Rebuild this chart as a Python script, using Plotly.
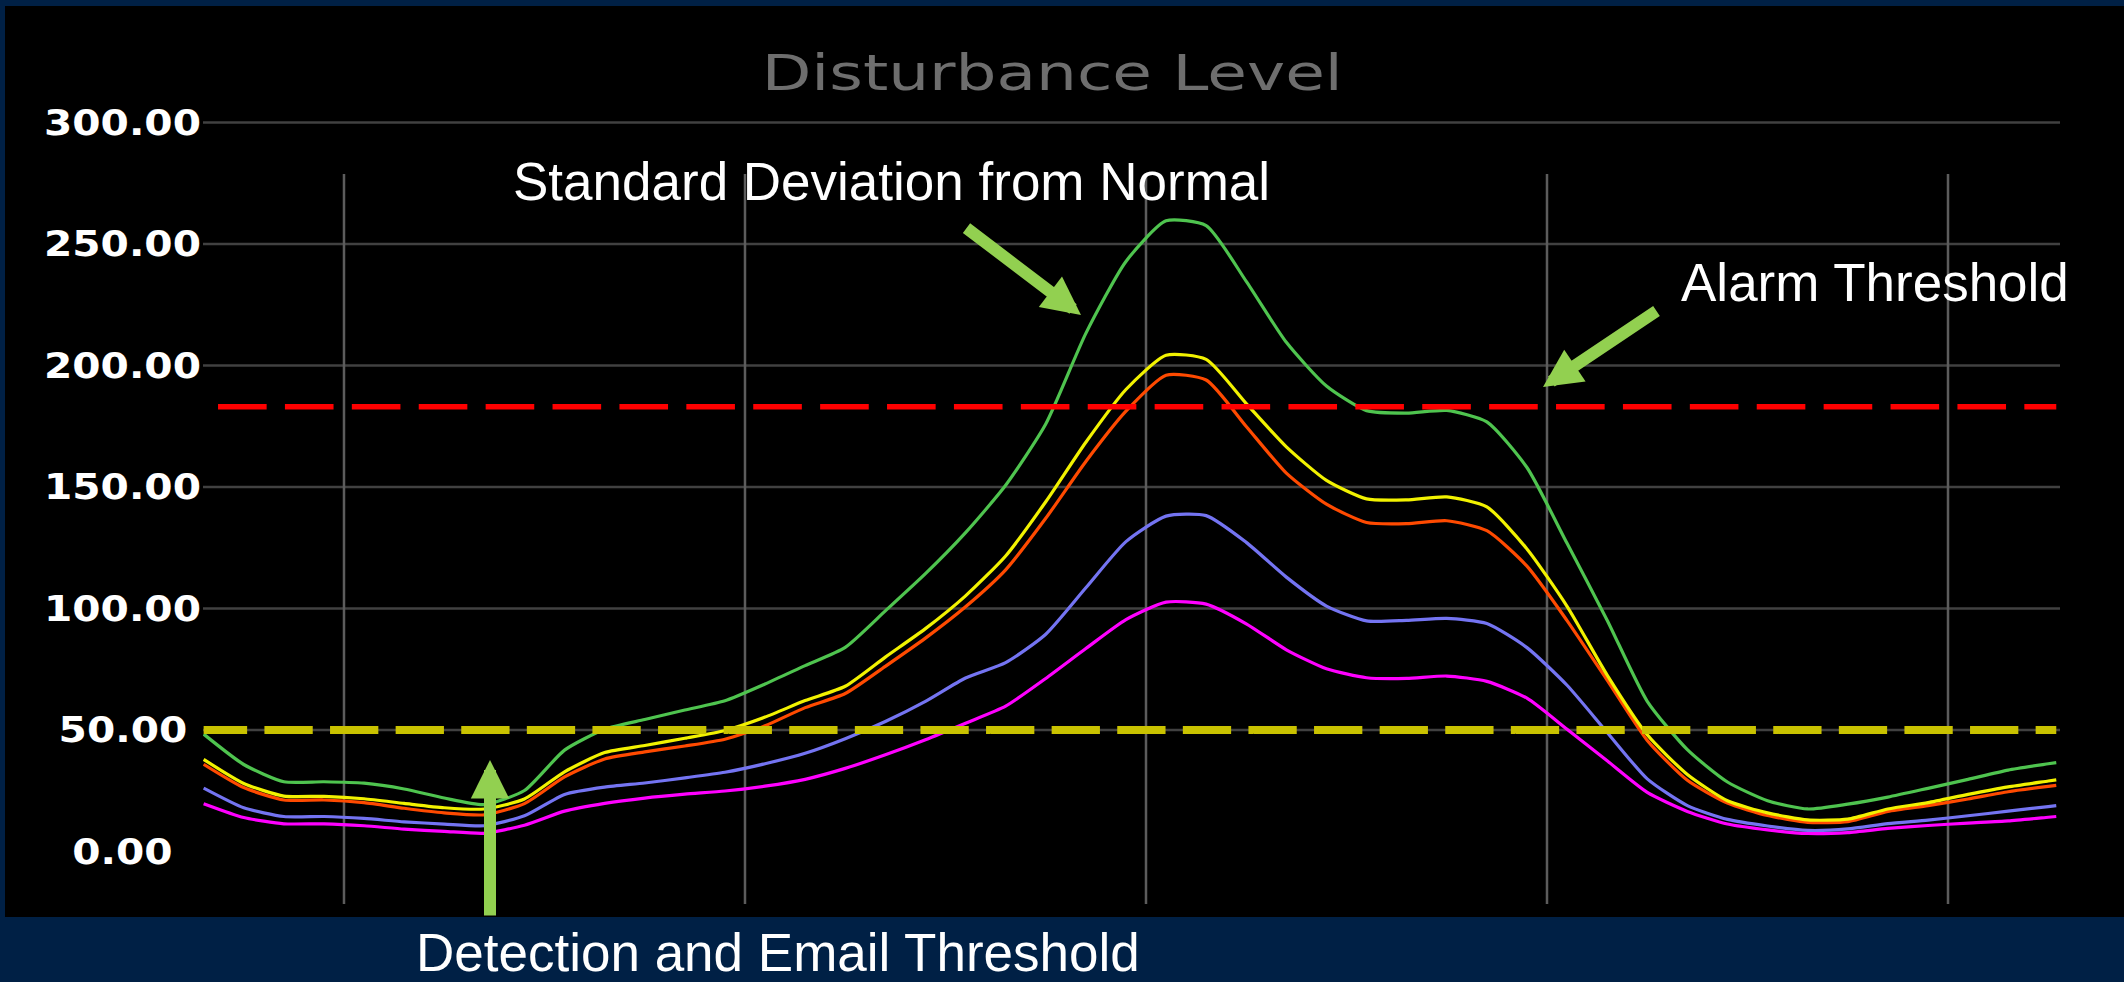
import plotly.graph_objects as go

# ---------------- data ----------------
# sample positions (x in units of the vertical grid spacing)
x_pos = [0.65, 0.75, 0.85, 0.95, 1.05, 1.15, 1.25, 1.35, 1.45, 1.55,
         1.65, 1.75, 1.85, 1.95, 2.05, 2.15, 2.25, 2.35, 2.45, 2.55,
         2.65, 2.75, 2.85, 2.95, 3.05, 3.15, 3.25, 3.35, 3.45, 3.55,
         3.65, 3.75, 3.85, 3.95, 4.05, 4.15, 4.25, 4.35, 4.45, 4.55,
         4.65, 4.75, 4.85, 4.95, 5.05, 5.15, 5.25, 5.27]

green = [48.3, 35.8, 28.7, 28.7, 28.1, 25.7, 22.0, 19.3, 25.1, 41.7,
         50.3, 54.3, 58.2, 62.0, 68.9, 76.5, 84.0, 99.0, 114.3, 131.2,
         150.7, 175.9, 213.2, 242.8, 259.5, 257.5, 234.6, 209.5, 191.5, 181.4,
         180.4, 181.5, 176.8, 158.0, 126.8, 95.2, 61.8, 41.9, 28.6, 20.9,
         17.5, 19.5, 22.4, 26.0, 29.7, 33.5, 36.1, 36.6]

yellow = [37.9, 28.0, 22.8, 22.7, 21.7, 19.8, 18.0, 17.5, 21.6, 32.8,
          40.7, 43.6, 46.6, 49.8, 55.3, 62.1, 68.0, 80.0, 91.7, 105.2,
          121.6, 143.9, 168.4, 190.1, 204.2, 202.5, 184.3, 166.5, 152.7, 145.1,
          144.7, 145.9, 141.8, 124.5, 100.9, 72.6, 48.0, 31.7, 20.9, 15.9,
          13.0, 13.3, 17.5, 20.1, 23.5, 26.6, 29.0, 29.5]

orange = [35.9, 26.3, 21.2, 21.2, 20.1, 17.8, 15.9, 15.1, 19.7, 30.7,
          38.1, 41.0, 43.4, 46.2, 51.7, 59.2, 65.0, 76.2, 87.8, 100.7,
          115.9, 137.1, 160.5, 181.2, 196.0, 194.0, 174.9, 155.7, 142.9, 135.4,
          134.9, 136.1, 132.0, 117.4, 95.0, 70.5, 45.7, 29.3, 19.9, 14.8,
          12.0, 12.3, 16.5, 18.9, 21.6, 24.6, 26.8, 27.2]

blue = [26.1, 18.0, 14.4, 14.4, 13.6, 12.2, 11.3, 10.6, 14.7, 23.5,
        26.5, 28.2, 30.3, 32.6, 36.1, 40.4, 46.4, 53.5, 61.8, 71.4,
        77.7, 89.4, 108.5, 127.5, 138.0, 138.2, 127.2, 112.9, 101.0, 94.9,
        95.1, 95.9, 93.8, 83.9, 68.4, 49.0, 29.9, 18.9, 13.2, 10.5,
        8.7, 9.3, 11.5, 12.9, 14.7, 16.6, 18.5, 18.9]

magenta = [19.7, 14.0, 11.4, 11.4, 10.6, 9.2, 8.3, 7.5, 10.8, 16.6,
           19.8, 22.0, 23.6, 24.9, 26.9, 29.7, 34.2, 39.8, 46.0, 52.8,
           59.8, 71.2, 83.5, 95.4, 102.6, 101.8, 93.7, 83.0, 75.2, 71.5,
           71.2, 72.2, 70.0, 63.1, 50.3, 37.3, 24.3, 16.5, 11.3, 8.9,
           7.4, 7.8, 9.5, 10.7, 11.7, 12.6, 14.1, 14.4]

grid_x = [1, 2, 3, 4, 5]
y_ticks = [0, 50, 100, 150, 200, 250, 300]
y_tick_text = ["0.00", "50.00", "100.00", "150.00", "200.00", "250.00", "300.00"]

alarm_threshold = 183
detection_threshold = 50

title_text = "Disturbance Level"
label_std = "Standard Deviation from Normal"
label_alarm = "Alarm Threshold"
label_detect = "Detection and Email Threshold"

# ---------------- layout geometry (pixels) ----------------
W, H = 2124, 982
L, R, T, B = 203, 2060, 119, 904
X_RANGE = [0.6484, 5.2793]
Y_RANGE = [-21.6, 301.4]


def pxx(p):
    return (p - L) / (R - L)


def pxy(q):
    return (B - q) / (B - T)


NAVY = "#002045"
ARROW = "#92d050"

fig = go.Figure()

series = [
    ("Green", green, "#4fc44f"),
    ("Magenta", magenta, "#ff00ff"),
    ("Blue", blue, "#7474f2"),
    ("Orange", orange, "#ff4a00"),
    ("Yellow", yellow, "#f2f200"),
]
for name, vals, col in series:
    fig.add_trace(go.Scatter(x=x_pos, y=vals, mode="lines", name=name,
                             line=dict(color=col, width=3.2, shape="spline",
                                       smoothing=0.6),
                             hoverinfo="skip"))

fig.add_trace(go.Scatter(x=[x_pos[0], x_pos[-1]],
                         y=[detection_threshold, detection_threshold],
                         mode="lines", name="Detection",
                         line=dict(color="#c9c200", width=8,
                                   dash="43.5px,17.3px,4.8px,0px"),
                         hoverinfo="skip"))
fig.add_trace(go.Scatter(x=[x_pos[0], x_pos[-1]],
                         y=[alarm_threshold, alarm_threshold],
                         mode="lines", name="Alarm",
                         line=dict(color="#ff0000", width=5.5,
                                   dash="0px,14.4px,48.6px,3.9px"),
                         hoverinfo="skip"))

shapes = [
    dict(type="rect", xref="paper", yref="paper",
         x0=pxx(5), x1=pxx(2130), y0=pxy(917), y1=pxy(6),
         fillcolor="#000000", line=dict(width=0), layer="below"),
]
for v in y_ticks[1:]:
    shapes.append(dict(type="line", xref="paper", yref="y", x0=0, x1=1,
                       y0=v, y1=v, line=dict(color="#414141", width=2.5),
                       layer="below"))
for g in grid_x:
    shapes.append(dict(type="line", xref="x", yref="paper", x0=g, x1=g,
                       y0=0, y1=pxy(174), line=dict(color="#5c5c5c", width=2.5),
                       layer="below"))

annotations = []
for v, t in zip(y_ticks, y_tick_text):
    annotations.append(dict(x=pxx(122.5), xref="paper", y=v, yref="y",
                            text=t, showarrow=False, xanchor="center",
                            yanchor="middle",
                            font=dict(family="DejaVu Sans", size=36,
                                      color="#ffffff", weight="bold")))

annotations.append(dict(x=pxx(1052), y=pxy(73.4), xref="paper", yref="paper",
                        text=title_text, showarrow=False, xanchor="center",
                        yanchor="middle",
                        font=dict(family="DejaVu Sans", size=50,
                                  color="#6e6e6e")))

txt_font = dict(family="Liberation Sans, Arial", size=53, color="#ffffff")
annotations.append(dict(x=pxx(891), y=pxy(181), xref="paper", yref="paper",
                        text=label_std, showarrow=False, xanchor="center",
                        yanchor="middle", font=txt_font))
annotations.append(dict(x=pxx(1874.5), y=pxy(282.5), xref="paper", yref="paper",
                        text=label_alarm, showarrow=False, xanchor="center",
                        yanchor="middle", font=txt_font))
annotations.append(dict(x=pxx(777.5), y=pxy(952), xref="paper", yref="paper",
                        text=label_detect, showarrow=False, xanchor="center",
                        yanchor="middle", font=txt_font))

arrow_common = dict(xref="paper", yref="paper", axref="pixel", ayref="pixel",
                    text="", showarrow=True, arrowhead=2, arrowsize=0.64,
                    arrowwidth=12, arrowcolor=ARROW, standoff=0,
                    startstandoff=0)
annotations.append(dict(x=pxx(1081), y=pxy(315), ax=-116, ay=-88, **arrow_common))
annotations.append(dict(x=pxx(1543), y=pxy(387), ax=115, ay=-77, **arrow_common))
annotations.append(dict(x=pxx(490), y=pxy(760), ax=0, ay=157, **arrow_common))

fig.update_layout(
    width=W, height=H, autosize=False,
    margin=dict(l=L, r=W - R, t=T, b=H - B, pad=0),
    paper_bgcolor=NAVY, plot_bgcolor="rgba(0,0,0,0)",
    showlegend=False,
    xaxis=dict(range=X_RANGE, showgrid=False, zeroline=False,
               showticklabels=False, showline=False, ticks=""),
    yaxis=dict(range=Y_RANGE, showgrid=False, zeroline=False,
               showticklabels=False, showline=False, ticks=""),
    shapes=shapes,
    annotations=annotations,
)

# page tweaks: no body margin / scrollbars; the original chart's lettering is
# horizontally wide, so widen title and axis labels (text stays real text)
post_js = """
document.body.style.margin = '0';
document.body.style.overflow = 'hidden';
(function () {
  var gd = document.getElementById('{plot_id}');
  var texts = gd.querySelectorAll('text.annotation-text');
  texts.forEach(function (t) {
    var s = t.textContent;
    var f = null;
    if (s === 'Disturbance Level') { f = 1.29; }
    else if (/^[0-9]+\\.[0-9][0-9]$/.test(s)) { f = 1.13; }
    if (f) {
      var w = t.getComputedTextLength();
      t.setAttribute('textLength', (w * f).toFixed(1));
      t.setAttribute('lengthAdjust', 'spacingAndGlyphs');
    }
  });
})();
"""

fig.write_html("out.html", config={"displayModeBar": False}, post_script=post_js)
